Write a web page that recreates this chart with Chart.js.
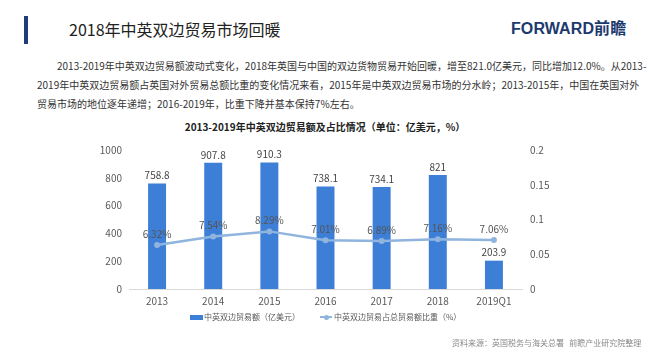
<!DOCTYPE html>
<html>
<head>
<meta charset="utf-8">
<script src="https://cdn.jsdelivr.net/npm/chart.js@4"></script>
<style>
  html, body { margin:0; padding:0; background:#ffffff; }
  body { width:650px; height:358px; position:relative; overflow:hidden; font-family:"Noto Sans CJK SC","Noto Sans",sans-serif; }
  .abs { position:absolute; white-space:nowrap; }
  #bar { left:24px; top:16px; width:4px; height:28px; background:#1f3c78; }
  #title { left:69px; top:18px; font-size:16px; line-height:22px; color:#222; }
  #logo { left:511px; top:18px; width:116px; font-size:16px; line-height:22px; font-weight:bold; color:#1c3a6e; font-family:"Liberation Sans","Noto Sans CJK SC",sans-serif; letter-spacing:0.1px; }
  .para { font-size:10px; line-height:14px; color:#333; text-align:justify; text-align-last:justify; }
  #l1 { left:57px; top:59px; width:576px; }
  #l2 { left:37px; top:78px; width:594px; }
  #l3 { left:37px; top:97px; text-align-last:left; }
  #ctitle { left:0; width:650px; top:120px; text-align:center; font-size:10px; line-height:14px; font-weight:bold; color:#222; }
  #wrap { position:absolute; left:0; top:136px; width:650px; height:178px; }
  #legend { left:190px; top:310px; font-size:8px; line-height:14px; color:#595959; display:flex; align-items:center; }
  .sw1 { display:inline-block; width:13px; height:5px; margin-right:1px; }
  .sw2 { display:inline-block; position:relative; width:12px; height:2px; margin-left:20px; margin-right:2px; }
  .sw2 i { position:absolute; left:4px; top:-1.5px; width:5px; height:5px; border-radius:50%; }
  #src { left:452px; top:337px; font-size:8px; line-height:12px; color:#8a8a8a; }
</style>
</head>
<body>
<div id="bar" class="abs"></div>
<div id="title" class="abs">2018年中英双边贸易市场回暖</div>
<div id="logo" class="abs">FORWARD前瞻</div>
<div id="l1" class="abs para">2013-2019年中英双边贸易额波动式变化，2018年英国与中国的双边货物贸易开始回暖，增至821.0亿美元，同比增加12.0%。从2013-</div>
<div id="l2" class="abs para">2019年中英双边贸易额占英国对外贸易总额比重的变化情况来看，2015年是中英双边贸易市场的分水岭；2013-2015年，中国在英国对外</div>
<div id="l3" class="abs para">贸易市场的地位逐年递增；2016-2019年，比重下降并基本保持7%左右。</div>
<div id="ctitle" class="abs">2013-2019年中英双边贸易额及占比情况（单位：亿美元，%）</div>
<div id="wrap"><canvas id="c"></canvas></div>
<div id="legend" class="abs"></div>
<div id="src" class="abs">资料来源：英国税务与海关总署&nbsp;&nbsp;&nbsp;前瞻产业研究院整理</div>
<script>
const categories = ['2013', '2014', '2015', '2016', '2017', '2018', '2019Q1'];
const tradeValues = [758.8, 907.8, 910.3, 738.1, 734.1, 821, 203.9];
const shareValues = [0.0632, 0.0754, 0.0829, 0.0701, 0.0689, 0.0716, 0.0706];
const shareLabels = ['6.32%', '7.54%', '8.29%', '7.01%', '6.89%', '7.16%', '7.06%'];
const leftTicks = [0, 200, 400, 600, 800, 1000];
const rightTicks = ['0', '0.05', '0.1', '0.15', '0.2'];
const seriesNames = ['中英双边贸易额（亿美元）', '中英双边贸易占总贸易额比重（%）'];

const BAR = '#3d7ed6';
const LINE = '#8fb4de';
const FONT = '"Noto Sans CJK SC","Noto Sans",sans-serif';

const labelPlugin = {
  id: 'valueLabels',
  afterDatasetsDraw(chart) {
    const ctx = chart.ctx;
    ctx.save();
    ctx.font = '10px ' + FONT;
    ctx.textAlign = 'center';
    ctx.textBaseline = 'middle';
    const m0 = chart.getDatasetMeta(0);
    ctx.fillStyle = '#444';
    m0.data.forEach((el, i) => ctx.fillText(String(tradeValues[i]), el.x, el.y - 8));
    const m1 = chart.getDatasetMeta(1);
    ctx.fillStyle = '#555';
    m1.data.forEach((el, i) => ctx.fillText(shareLabels[i], el.x, el.y - 11));
    ctx.restore();
  }
};

const chart = new Chart(document.getElementById('c'), {
  type: 'bar',
  data: {
    labels: categories,
    datasets: [
      { type: 'bar', label: seriesNames[0], data: tradeValues, backgroundColor: BAR, yAxisID: 'y', barPercentage: 0.64, categoryPercentage: 0.5, order: 2 },
      { type: 'line', label: seriesNames[1], data: shareValues, borderColor: LINE, backgroundColor: LINE, borderWidth: 2.5,
        pointRadius: 3, pointBackgroundColor: LINE, pointBorderColor: LINE, pointBorderWidth: 0, tension: 0, yAxisID: 'y1', order: 1 }
    ]
  },
  options: {
    responsive: true,
    maintainAspectRatio: false,
    animation: false,
    layout: { padding: { left: 80, right: 88, top: 12, bottom: 1 } },
    plugins: { legend: { display: false }, tooltip: { enabled: false }, title: { display: false } },
    scales: {
      x: {
        grid: { display: false, drawTicks: false },
        border: { display: true, color: '#d9d9d9', width: 1 },
        ticks: { color: '#595959', font: { size: 10, family: FONT }, padding: 6 }
      },
      y: {
        position: 'left', min: 0, max: 1000,
        afterBuildTicks: (s) => { s.ticks = leftTicks.map(v => ({ value: v })); },
        afterFit: (s) => { s.width = 49; },
        grid: { display: false, drawTicks: false },
        border: { display: false },
        ticks: { color: '#595959', font: { size: 10, family: FONT }, padding: 7,
          callback: (v, i) => String(leftTicks[i]) }
      },
      y1: {
        position: 'right', min: 0, max: 0.2,
        afterBuildTicks: (s) => { s.ticks = rightTicks.map(v => ({ value: parseFloat(v) })); },
        afterFit: (s) => { s.width = 40; },
        grid: { display: false, drawTicks: false },
        border: { display: false },
        ticks: { color: '#595959', font: { size: 10, family: FONT }, padding: 8,
          callback: (v, i) => rightTicks[i] }
      }
    }
  },
  plugins: [labelPlugin]
});

// legend built from the dataset definitions
const lg = document.getElementById('legend');
chart.data.datasets.forEach((ds, i) => {
  const sw = document.createElement('span');
  if (i === 0) { sw.className = 'sw1'; sw.style.background = ds.backgroundColor; }
  else { sw.className = 'sw2'; sw.style.background = ds.borderColor; const d = document.createElement('i'); d.style.background = ds.borderColor; sw.appendChild(d); }
  const t = document.createElement('span');
  t.textContent = ds.label;
  lg.appendChild(sw); lg.appendChild(t);
});
</script>
</body>
</html>
